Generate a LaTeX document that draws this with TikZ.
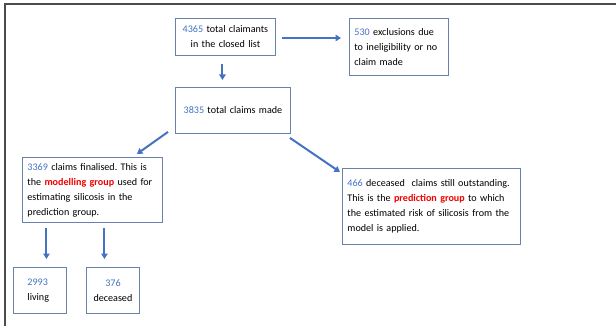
\documentclass[tikz,border=0pt]{standalone}
\usepackage{fontspec}
\setmainfont{Carlito}
\usetikzlibrary{arrows.meta}
\definecolor{numblue}{RGB}{68,114,196}
\definecolor{boxline}{RGB}{105,130,172}
\definecolor{arrowblue}{RGB}{68,114,196}
\definecolor{grpred}{RGB}{240,0,0}
\newcommand\nb[1]{\textcolor{numblue}{#1}}
\newcommand\grp[1]{\textcolor{grpred}{\bfseries #1}}
\frenchspacing

\begin{document}
\begin{tikzpicture}[x=1pt,y=-1pt] % 像素坐标, y 向下
      \tikzset{
        box/.style={draw=boxline, line width=0.9pt, anchor=north west,
          inner ysep=3pt, font=\fontsize{10.1}{15}\selectfont},
        arr/.style={draw=arrowblue, line width=2pt,
          -{Triangle[length=5.5pt,width=6.5pt]}}
      }
      \useasboundingbox (0,0) rectangle (616,326);
      % 外框
      \draw[line width=1.5pt, black!70] (5,326) -- (5,4) -- (616,4);
      % 上面两行
      \node[box, inner xsep=5pt, text width=90pt, align=center,
        minimum height=37pt] (total) at (175,18)
        {\nb{4365} total claimants\\in the closed list};
      \node[box, inner xsep=5pt, text width=89pt, align=left,
        minimum height=57pt] (excl) at (349,18)
        {\nb{530} exclusions due\\to ineligibility or no\\claim made};
      \node[box, inner xsep=5pt, text width=105pt, align=center,
        minimum height=46pt] (claims) at (175,87)
        {\nb{3835} total claims made};
      % 两个分组
      \node[box, inner xsep=5pt, text width=130pt, align=left,
        minimum height=65pt] (model) at (22,157)
        {\nb{3369} claims finalised. This is\\the \grp{modelling group} used for\\estimating silicosis in the\\prediction group.};
      \node[box, inner xsep=5pt, text width=168pt, align=left,
        minimum height=76pt] (pred) at (342,168)
        {\nb{466} deceased\ \ claims still outstanding.\\This is the \grp{prediction group} to which\\the estimated risk of silicosis from the\\model is applied.};
      % 最下面
      \node[box, inner xsep=14pt, text width=25pt, align=left,
        minimum height=46pt] (living) at (13,267)
        {\nb{2993}\\living};
      \node[box, inner xsep=4pt, text width=45pt, align=center,
        minimum height=46pt] (dead) at (86,267)
        {\nb{376}\\deceased};
      % 箭头
      \coordinate (tc) at ([xshift=-3pt]total.south);
      \coordinate (ml) at ([xshift=6.5pt]living.north);
      \coordinate (md) at ([xshift=-8.5pt]dead.north);
      \draw[arr] ([xshift=6pt]total.east |- 0,38) -- ([xshift=-8pt]excl.west |- 0,38);
      \draw[arr, shorten <=8pt, shorten >=7pt] (tc) -- (tc |- claims.north);
      \draw[arr] ([xshift=-7pt,yshift=2pt]claims.south west)
        -- ([xshift=-26pt,yshift=3pt]model.north east);
      \draw[arr] ([xshift=-1pt,yshift=-4pt]claims.south east)
        -- ([xshift=-2pt,yshift=-4pt]pred.north west);
      \draw[arr, shorten <=5pt, shorten >=8pt] (ml |- model.south) -- (ml);
      \draw[arr, shorten <=5pt, shorten >=8pt] (md |- model.south) -- (md);
    \end{tikzpicture}
\end{document}
